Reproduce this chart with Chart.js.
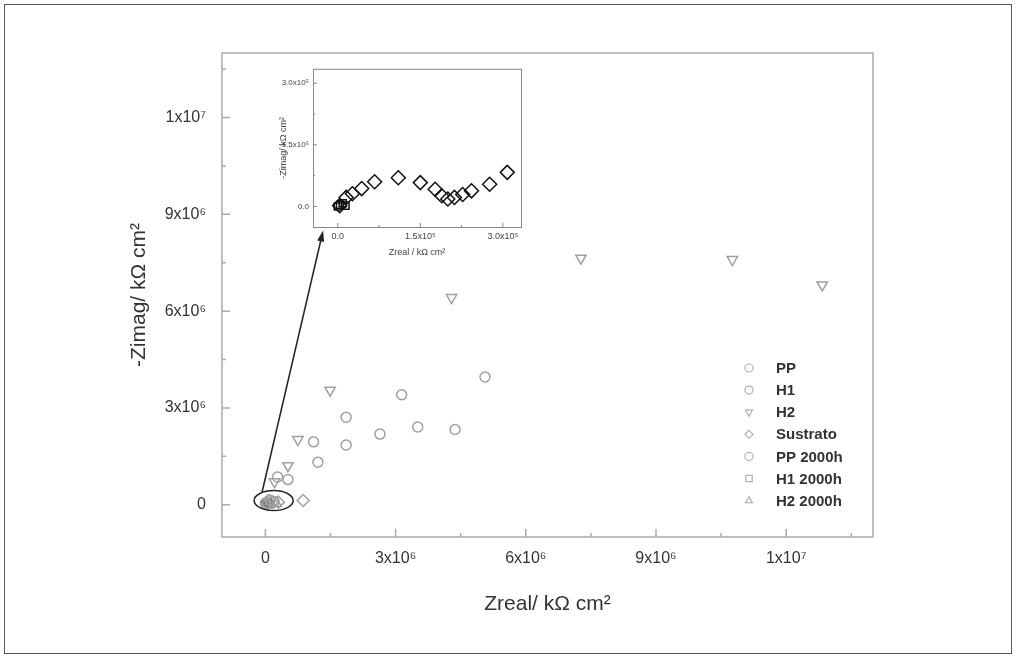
<!DOCTYPE html>
<html>
<head>
<meta charset="utf-8">
<script src="https://cdn.jsdelivr.net/npm/chart.js@4.4.0/dist/chart.umd.min.js"></script>
<style>
  html, body { margin: 0; padding: 0; background: #fff; }
  #wrap { position: relative; width: 1016px; height: 658px; }
  #main { position: absolute; left: 0; top: 0; }
  #inset { position: absolute; left: 268px; top: 60px; }
</style>
</head>
<body>
<div id="wrap">
  <canvas id="main" width="1016" height="658"></canvas>
  <canvas id="inset" width="262" height="205"></canvas>
</div>
<script>
// main plot values, in units of 10^6 kOhm cm2
const ppX = [0.52, 1.21, 1.86, 3.14, 5.06];
const ppY = [0.78, 1.32, 2.71, 3.41, 3.96];
const h1X = [0.28, 1.11, 1.86, 2.64, 3.51, 4.37];
const h1Y = [0.86, 1.95, 1.85, 2.19, 2.41, 2.33];
const h2X = [0.21, 0.52, 0.75, 1.49, 4.29, 7.27, 10.76, 12.83];
const h2Y = [0.71, 1.21, 2.02, 3.55, 6.42, 7.64, 7.60, 6.81];
const sustX = [0.05, 0.15, 0.30, 0.87];
const sustY = [0.02, 0.06, 0.08, 0.13];
const pp2000X = [0.00, 0.10, 0.20];
const pp2000Y = [0.05, 0.15, 0.10];
const h12000X = [0.00, 0.05, 0.12];
const h12000Y = [0.00, 0.08, 0.02];
const h22000X = [0.08, 0.25];
const h22000Y = [0.12, 0.04];

const xTickVals = [0, 3, 6, 9, 12];
const xTickLabels = ['0', '3x10\u2076', '6x10\u2076', '9x10\u2076', '1x10\u2077'];
const yTickVals = [0, 3, 6, 9, 12];
const yTickLabels = ['0', '3x10\u2076', '6x10\u2076', '9x10\u2076', '1x10\u2077'];

// inset values, in units of 10^5 kOhm cm2
const insetSustX = [0.035, 0.153, 0.265, 0.435, 0.67, 1.10, 1.50, 1.77, 1.89, 2.00, 2.12, 2.27, 2.43, 2.76, 3.08];
const insetSustY = [0.02, 0.22, 0.31, 0.435, 0.60, 0.70, 0.58, 0.42, 0.26, 0.18, 0.22, 0.29, 0.38, 0.54, 0.83];
const insetSqX = [0.00, 0.04, 0.09, 0.14];
const insetSqY = [0.00, 0.04, 0.08, 0.02];
const insetTickVals = [0, 1.5, 3.0];
const insetTickLabels = ['0.0', '1.5x10\u2075', '3.0x10\u2075'];

// zoom marker (ellipse) and arrow, in main data units
const zoomEllipse = { cx: 0.19, cy: 0.13, rx: 0.45, ry: 0.31 };
const arrowFrom = { x: -0.08, y: 0.37 };
const arrowTo = { x: 1.33, y: 8.5 };

const grey = '#a0a0a0';

function pts(xs, ys) {
  return xs.map(function (v, i) { return { x: v, y: ys[i] }; });
}

function series(label, xs, ys, style, rot, color, r) {
  return {
    label: label,
    data: pts(xs, ys),
    pointStyle: style,
    pointRotation: rot,
    pointRadius: r,
    pointHoverRadius: r,
    pointBorderWidth: 1.5,
    pointBorderColor: color,
    pointBackgroundColor: 'rgba(255,255,255,0)',
    borderColor: color,
    showLine: false
  };
}

function marker(ctx, style, rot, x, y, r) {
  ctx.beginPath();
  if (style === 'circle') {
    ctx.arc(x, y, r, 0, Math.PI * 2);
  } else if (style === 'rect') {
    ctx.rect(x - r * 0.8, y - r * 0.8, r * 1.6, r * 1.6);
  } else if (style === 'rectRot') {
    ctx.moveTo(x, y - r); ctx.lineTo(x + r, y); ctx.lineTo(x, y + r); ctx.lineTo(x - r, y); ctx.closePath();
  } else {
    const s = rot ? -1 : 1;
    ctx.moveTo(x, y - s * r);
    ctx.lineTo(x + r * 0.87, y + s * r * 0.5);
    ctx.lineTo(x - r * 0.87, y + s * r * 0.5);
    ctx.closePath();
  }
  ctx.stroke();
}

// Origin style ticks pointing into the plot, minor ones halfway between
function inwardTicks(ctx, chart, xs, ys, major, minor) {
  const a = chart.chartArea, sx = chart.scales.x, sy = chart.scales.y;
  ctx.beginPath();
  xs.forEach(function (v) {
    const px = sx.getPixelForValue(v);
    ctx.moveTo(px, a.bottom); ctx.lineTo(px, a.bottom - major);
    const mx = sx.getPixelForValue(v + (xs[1] - xs[0]) / 2);
    if (mx < a.right) { ctx.moveTo(mx, a.bottom); ctx.lineTo(mx, a.bottom - minor); }
  });
  ys.forEach(function (v) {
    const py = sy.getPixelForValue(v);
    ctx.moveTo(a.left, py); ctx.lineTo(a.left + major, py);
    const my = sy.getPixelForValue(v + (ys[1] - ys[0]) / 2);
    if (my > a.top) { ctx.moveTo(a.left, my); ctx.lineTo(a.left + minor, my); }
  });
  ctx.stroke();
}

const mainDecor = {
  id: 'mainDecor',
  beforeDraw(chart) {
    const ctx = chart.ctx;
    ctx.save();
    ctx.fillStyle = '#fff';
    ctx.fillRect(0, 0, chart.width, chart.height);
    ctx.strokeStyle = '#555';
    ctx.lineWidth = 1;
    ctx.strokeRect(4.5, 4.5, chart.width - 9, chart.height - 9);
    ctx.restore();
  },
  afterDraw(chart) {
    const ctx = chart.ctx, a = chart.chartArea, sx = chart.scales.x, sy = chart.scales.y;
    ctx.save();
    ctx.strokeStyle = '#aaaaaa';
    ctx.lineWidth = 1.5;
    ctx.strokeRect(a.left, a.top, a.right - a.left, a.bottom - a.top);
    inwardTicks(ctx, chart, xTickVals, yTickVals, 8, 4);

    // ellipse round the cluster at the origin
    const ex = sx.getPixelForValue(zoomEllipse.cx), ey = sy.getPixelForValue(zoomEllipse.cy);
    const erx = sx.getPixelForValue(zoomEllipse.cx + zoomEllipse.rx) - ex;
    const ery = ey - sy.getPixelForValue(zoomEllipse.cy + zoomEllipse.ry);
    ctx.strokeStyle = '#222';
    ctx.lineWidth = 1.5;
    ctx.beginPath();
    ctx.ellipse(ex, ey, erx, ery, 0, 0, Math.PI * 2);
    ctx.stroke();

    // arrow to the inset
    const x0 = sx.getPixelForValue(arrowFrom.x), y0 = sy.getPixelForValue(arrowFrom.y);
    const x1 = sx.getPixelForValue(arrowTo.x), y1 = sy.getPixelForValue(arrowTo.y);
    const ang = Math.atan2(y1 - y0, x1 - x0);
    ctx.beginPath();
    ctx.moveTo(x0, y0);
    ctx.lineTo(x1 - 8 * Math.cos(ang), y1 - 8 * Math.sin(ang));
    ctx.stroke();
    ctx.fillStyle = '#222';
    ctx.beginPath();
    ctx.moveTo(x1, y1);
    ctx.lineTo(x1 - 11 * Math.cos(ang) + 3.5 * Math.sin(ang), y1 - 11 * Math.sin(ang) - 3.5 * Math.cos(ang));
    ctx.lineTo(x1 - 11 * Math.cos(ang) - 3.5 * Math.sin(ang), y1 - 11 * Math.sin(ang) + 3.5 * Math.cos(ang));
    ctx.closePath();
    ctx.fill();

    // legend
    ctx.font = 'bold 15px "Liberation Sans", Arial, sans-serif';
    ctx.textBaseline = 'middle';
    ctx.textAlign = 'left';
    chart.data.datasets.forEach(function (d, i) {
      const yy = 368 + i * 22.1;
      ctx.strokeStyle = '#b0b0b0';
      ctx.lineWidth = 1.2;
      marker(ctx, d.pointStyle, d.pointRotation, 749, yy, 4);
      ctx.fillStyle = '#333';
      ctx.fillText(d.label, 776, yy + 1);
    });
    ctx.restore();
  }
};

const insetDecor = {
  id: 'insetDecor',
  afterDraw(chart) {
    const ctx = chart.ctx, a = chart.chartArea;
    ctx.save();
    ctx.strokeStyle = '#888';
    ctx.lineWidth = 1;
    ctx.strokeRect(a.left + 0.5, a.top + 0.5, a.right - a.left, a.bottom - a.top);
    inwardTicks(ctx, chart, insetTickVals, insetTickVals, 4, 2);
    ctx.restore();
  }
};

const tickFont = { family: '"Liberation Sans", Arial, sans-serif', size: 16 };
const titleFont = { family: '"Liberation Sans", Arial, sans-serif', size: 21 };

new Chart(document.getElementById('main'), {
  type: 'scatter',
  data: {
    datasets: [
      series('PP', ppX, ppY, 'circle', 0, grey, 5),
      series('H1', h1X, h1Y, 'circle', 0, grey, 5),
      series('H2', h2X, h2Y, 'triangle', 180, grey, 6),
      series('Sustrato', sustX, sustY, 'rectRot', 0, grey, 6),
      series('PP 2000h', pp2000X, pp2000Y, 'circle', 0, grey, 5),
      series('H1 2000h', h12000X, h12000Y, 'rect', 0, '#666', 5),
      series('H2 2000h', h22000X, h22000Y, 'triangle', 0, grey, 6)
    ]
  },
  options: {
    responsive: false,
    animation: false,
    layout: { padding: { left: 123, right: 143, top: 53, bottom: 37 } },
    plugins: { legend: { display: false }, tooltip: { enabled: false } },
    scales: {
      x: {
        type: 'linear', min: -1, max: 14,
        afterBuildTicks: function (s) { s.ticks = xTickVals.map(function (v) { return { value: v }; }); },
        afterFit: function (s) { s.height = 84; },
        ticks: {
          autoSkip: false, maxRotation: 0, padding: 12, color: '#333', font: tickFont,
          callback: function (v, i) { return xTickLabels[i]; }
        },
        grid: { display: false, drawTicks: false },
        border: { display: false },
        title: { display: true, text: 'Zreal/ k\u03A9 cm\u00B2', color: '#333', font: titleFont, padding: 4 }
      },
      y: {
        type: 'linear', min: -1, max: 14,
        afterBuildTicks: function (s) { s.ticks = yTickVals.map(function (v) { return { value: v }; }); },
        afterFit: function (s) { s.width = 99; },
        ticks: {
          autoSkip: false, padding: 16, color: '#333', font: tickFont,
          callback: function (v, i) { return yTickLabels[i]; }
        },
        grid: { display: false, drawTicks: false },
        border: { display: false },
        title: { display: true, text: '-Zimag/ k\u03A9 cm\u00B2', color: '#333', font: titleFont, padding: 4 }
      }
    }
  },
  plugins: [mainDecor]
});

const insetFont = { family: '"Liberation Sans", Arial, sans-serif', size: 9 };

new Chart(document.getElementById('inset'), {
  type: 'scatter',
  data: {
    datasets: [
      series('Sustrato', insetSustX, insetSustY, 'rectRot', 0, '#111', 7),
      series('H1 2000h', insetSqX, insetSqY, 'rect', 0, '#111', 5)
    ]
  },
  options: {
    responsive: false,
    animation: false,
    layout: { padding: { left: 10, right: 9, top: 7, bottom: 7 } },
    plugins: { legend: { display: false }, tooltip: { enabled: false } },
    scales: {
      x: {
        type: 'linear', min: -0.45, max: 3.33,
        afterBuildTicks: function (s) { s.ticks = insetTickVals.map(function (v) { return { value: v }; }); },
        afterFit: function (s) { s.height = 31; },
        ticks: {
          autoSkip: false, maxRotation: 0, padding: 4, color: '#444', font: insetFont,
          callback: function (v, i) { return insetTickLabels[i]; }
        },
        grid: { display: false, drawTicks: false },
        border: { display: false },
        title: { display: true, text: 'Zreal / k\u03A9 cm\u00B2', color: '#444', font: insetFont, padding: 0 }
      },
      y: {
        type: 'linear', min: -0.5, max: 3.35,
        afterBuildTicks: function (s) { s.ticks = insetTickVals.map(function (v) { return { value: v }; }); },
        afterFit: function (s) { s.width = 35; },
        ticks: {
          autoSkip: false, padding: 4, color: '#444', font: { family: insetFont.family, size: 8 },
          callback: function (v, i) { return insetTickLabels[i]; }
        },
        grid: { display: false, drawTicks: false },
        border: { display: false },
        title: { display: true, text: '-Zimag/ k\u03A9 cm\u00B2', color: '#444', font: insetFont, padding: 0 }
      }
    }
  },
  plugins: [insetDecor]
});
</script>
</body>
</html>
